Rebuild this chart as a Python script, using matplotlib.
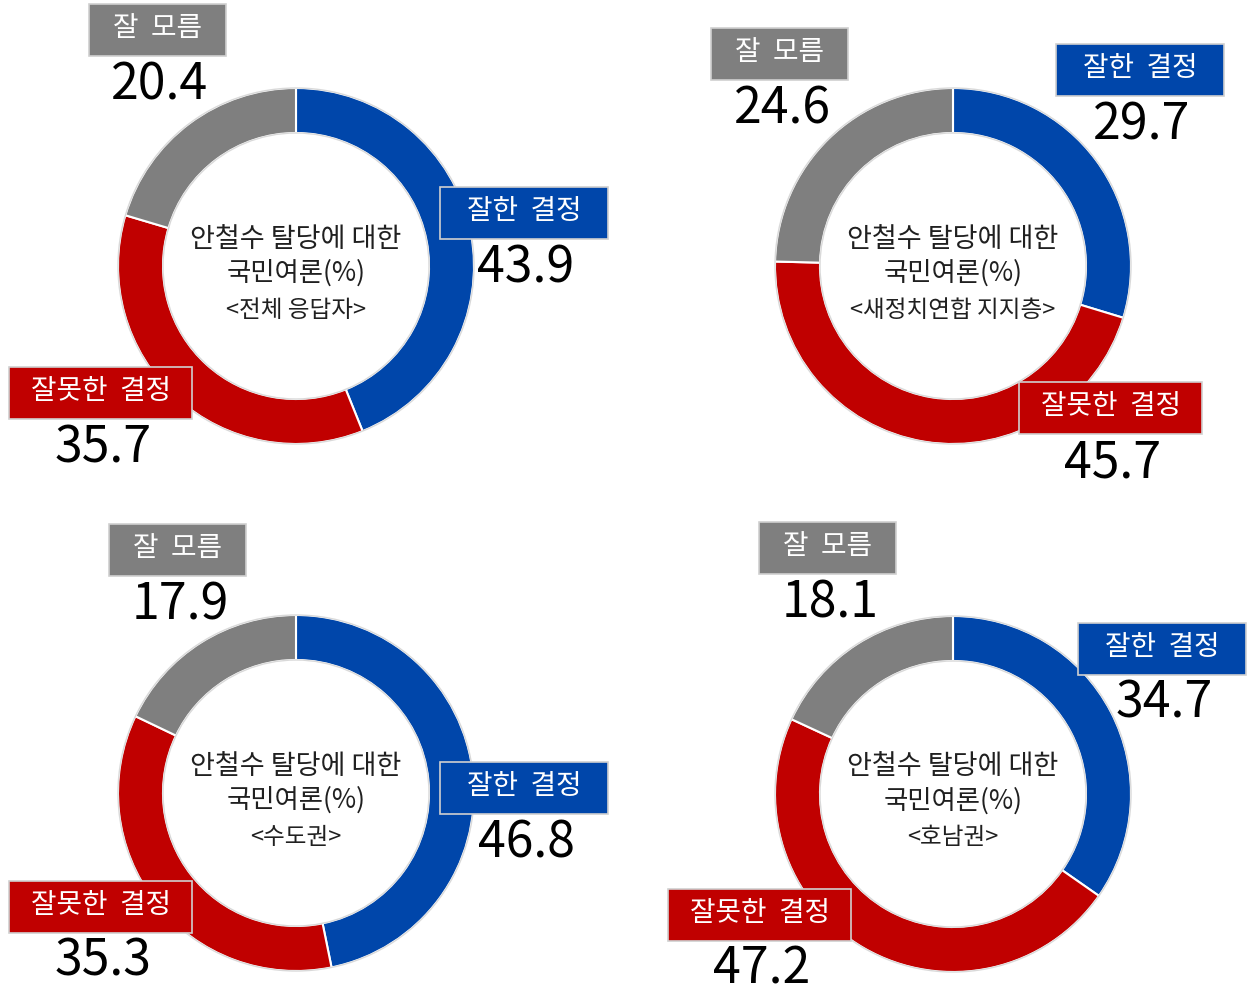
import matplotlib
matplotlib.use("Agg")
from matplotlib import pyplot as plt
from matplotlib.patches import Rectangle, Circle

plt.rcParams['font.family'] = ['Noto Sans CJK KR', 'DejaVu Sans']

# survey results (%)
groups = ['전체 응답자', '새정치연합 지지층', '수도권', '호남권']
labels = ['잘한 결정', '잘못한 결정', '잘 모름']
good = [43.9, 29.7, 46.8, 34.7]
bad = [35.7, 45.7, 35.3, 47.2]
dunno = [20.4, 24.6, 17.9, 18.1]
colors = ['#0046AA', '#C00000', '#7F7F7F']

W, H = 1249, 996

# layout in pixels (from top-left)
centers = [(296, 266), (953, 266), (296, 793), (953, 794)]
radius = 178
ring = 45
# box centers for [good, bad, dunno] per chart
box_pos = [
    [(524, 213), (101, 393), (158, 30)],
    [(1140, 70), (1111, 408), (780, 54)],
    [(524, 788), (101, 907), (178, 550)],
    [(1162, 649), (760, 915), (828, 548)],
]
box_w = [168, 183, 137]
box_h = 52
val_dy = 55

fig = plt.figure(figsize=(W / 100, H / 100), dpi=100)
ax = fig.add_axes([0, 0, 1, 1])


def py(y):
    return H - y


for i, g in enumerate(groups):
    cx, cy = centers[i]
    vals = [good[i], bad[i], dunno[i]]
    ax.pie(vals, colors=colors, center=(cx, py(cy)), radius=radius,
           startangle=90, counterclock=False,
           wedgeprops=dict(width=ring, edgecolor='white', linewidth=1.5))
    for r in (radius, radius - ring):
        ax.add_patch(Circle((cx, py(cy)), r, fill=False, edgecolor='#d9d9d9', lw=1))

    ax.text(cx, py(cy - 27), '안철수 탈당에 대한', ha='center', va='center',
            fontsize=19.5, color='#202020')
    ax.text(cx, py(cy + 7), '국민여론(%)', ha='center', va='center',
            fontsize=19, color='#202020')
    ax.text(cx, py(cy + 44), '<' + g + '>', ha='center', va='center',
            fontsize=17, color='#202020')

    for j in range(3):
        bx, by = box_pos[i][j]
        w = box_w[j]
        ax.add_patch(Rectangle((bx - w / 2, py(by) - box_h / 2), w, box_h,
                               facecolor=colors[j], edgecolor='#d0d0d0', lw=1.2))
        ax.text(bx, py(by) + 2, labels[j].replace(' ', '  '), ha='center', va='center',
                fontsize=20, color='white')
        ax.text(bx + 2, py(by + val_dy), f'{vals[j]:.1f}', ha='center', va='center',
                fontsize=36, color='black')

# pie() resets the limits, so set them at the end
ax.set_xlim(0, W)
ax.set_ylim(0, H)
ax.set_aspect('equal')
ax.axis('off')

fig.savefig('out.png', dpi=100)
